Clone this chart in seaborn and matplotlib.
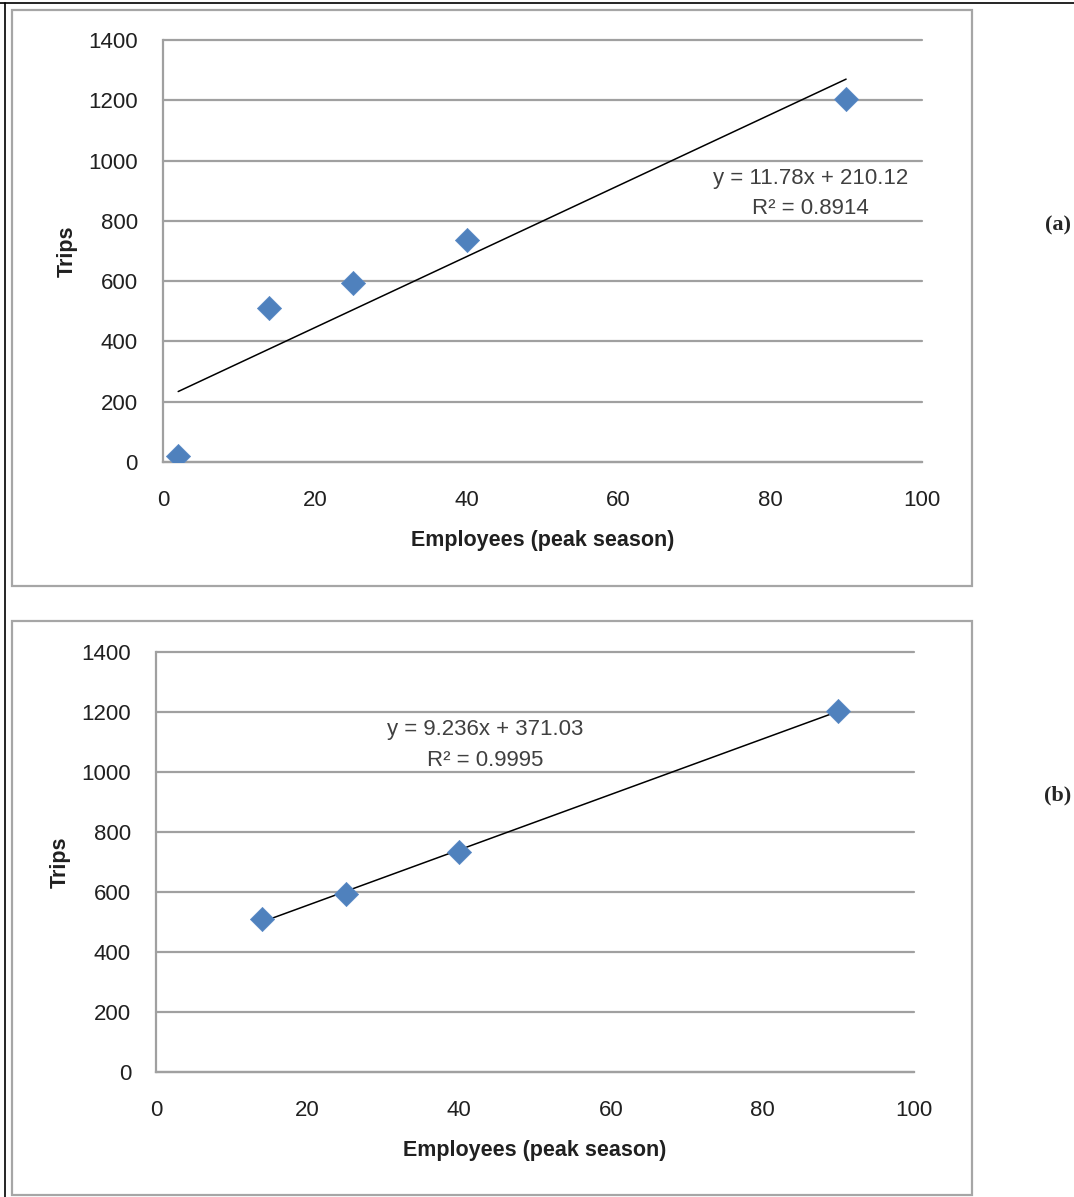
import numpy as np
import pandas as pd
import matplotlib
matplotlib.use("Agg")
import matplotlib.pyplot as plt
from matplotlib.patches import Rectangle
from matplotlib.lines import Line2D
import seaborn as sns

# ---- data ----
employees_a = [2, 14, 25, 40, 90]
trips_a = [20, 510, 595, 735, 1205]
employees_b = [14, 25, 40, 90]
trips_b = [510, 595, 735, 1205]
eq_a = ["y = 11.78x + 210.12", "R² = 0.8914"]
eq_b = ["y = 9.236x + 371.03", "R² = 0.9995"]
panel_labels = ["(a)", "(b)"]
x_ticks = [0, 20, 40, 60, 80, 100]
y_ticks = [0, 200, 400, 600, 800, 1000, 1200, 1400]

sns.set_style("white")
plt.rcParams['font.family'] = ['Liberation Sans', 'DejaVu Sans']

W, H = 1074, 1197
fig = plt.figure(figsize=(W / 100, H / 100), dpi=100)

def fx(px):
    return px / W

def fy(py):
    return 1 - py / H

GRID = "#A0A0A0"
TXT = "#404040"
BLUE = "#4F81BD"

# outer frame lines (top and left)
fig.add_artist(Line2D([0, 1], [fy(3), fy(3)], color="black", lw=1.2, transform=fig.transFigure))
fig.add_artist(Line2D([fx(4.5), fx(4.5)], [0, fy(3)], color="black", lw=1.2, transform=fig.transFigure))

# chart boxes
for (x0, y0, x1, y1) in [(12, 10, 972, 586), (12, 621, 972, 1195)]:
    fig.add_artist(Rectangle((fx(x0), fy(y1)), fx(x1) - fx(x0), fy(y0) - fy(y1),
                             fill=False, edgecolor="#A6A6A6", lw=1.6,
                             transform=fig.transFigure))

specs = [
    dict(x=employees_a, y=trips_a, eq=eq_a, lab=panel_labels[0],
         box=(163, 40, 922, 462), eqx=85.3, eqy=(940, 840), laby=225),
    dict(x=employees_b, y=trips_b, eq=eq_b, lab=panel_labels[1],
         box=(156, 652, 914, 1072), eqx=43.4, eqy=(1143, 1037), laby=795),
]

for s in specs:
    l, t, r, b = s["box"]
    ax = fig.add_axes([fx(l), fy(b), fx(r) - fx(l), fy(t) - fy(b)])
    df = pd.DataFrame({"Employees": s["x"], "Trips": s["y"]})
    sns.regplot(data=df, x="Employees", y="Trips", ax=ax, scatter=False,
                ci=None, truncate=True, line_kws=dict(color="black", lw=1.1))
    sns.scatterplot(data=df, x="Employees", y="Trips", ax=ax, marker="D",
                    s=150, color=BLUE, edgecolor="#5A8AC6", linewidth=0.6, zorder=5)
    ax.set_xlim(0, 100)
    ax.set_ylim(0, 1400)
    ax.set_xticks(x_ticks)
    ax.set_yticks(y_ticks)
    ax.set_xticklabels([str(v) for v in x_ticks])
    ax.set_yticklabels([str(v) for v in y_ticks])
    ax.yaxis.grid(True, color=GRID, lw=1.6)
    ax.xaxis.grid(False)
    ax.set_axisbelow(True)
    for gl in ax.get_ygridlines():
        gl.set_clip_on(False)
    for sp in ["top", "right"]:
        ax.spines[sp].set_visible(False)
    for sp in ["left", "bottom"]:
        ax.spines[sp].set_color(GRID)
        ax.spines[sp].set_linewidth(1.6)
    ax.tick_params(axis="both", which="major", direction="out", length=6,
                   width=1.6, color=GRID, labelsize=16, labelcolor="#202020")
    ax.tick_params(axis="x", pad=14)
    ax.tick_params(axis="y", pad=12)
    ax.set_xlabel("Employees (peak season)", fontsize=15.5, fontweight="bold",
                  color="#202020", labelpad=14)
    ax.set_ylabel("Trips", fontsize=15.5, fontweight="bold", color="#202020", labelpad=8)
    ax.text(s["eqx"], s["eqy"][0], s["eq"][0], ha="center", va="center",
            fontsize=16, color=TXT)
    ax.text(s["eqx"], s["eqy"][1], s["eq"][1], ha="center", va="center",
            fontsize=16, color=TXT)
    fig.text(fx(1058), fy(s["laby"]), s["lab"], ha="center", va="center",
             fontsize=16, fontweight="bold", family=["Liberation Serif", "DejaVu Serif"])

fig.savefig("out.png", dpi=100)
